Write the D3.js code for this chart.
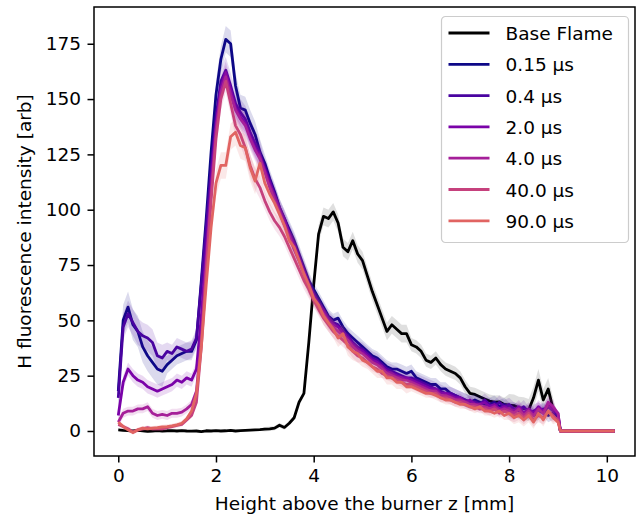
<!DOCTYPE html>
<html>
<head>
<meta charset="utf-8">
<script src="https://cdn.jsdelivr.net/npm/d3@7"></script>
<style>
  body { margin: 0; background: #fff; }
  svg { font-family: "DejaVu Sans", sans-serif; }
</style>
</head>
<body>
<div id="chart"></div>
<script>
// Height above the burner [mm], sampled every 0.1 mm
var heights = [
  0.0, 0.1, 0.2, 0.3, 0.4, 0.5, 0.6, 0.7, 0.8, 0.9,
  1.0, 1.1, 1.2, 1.3, 1.4, 1.5, 1.6, 1.7, 1.8, 1.9,
  2.0, 2.1, 2.2, 2.3, 2.4, 2.5, 2.6, 2.7, 2.8, 2.9,
  3.0, 3.1, 3.2, 3.3, 3.4, 3.5, 3.6, 3.7, 3.8, 3.9,
  4.0, 4.1, 4.2, 4.3, 4.4, 4.5, 4.6, 4.7, 4.8, 4.9,
  5.0, 5.1, 5.2, 5.3, 5.4, 5.5, 5.6, 5.7, 5.8, 5.9,
  6.0, 6.1, 6.2, 6.3, 6.4, 6.5, 6.6, 6.7, 6.8, 6.9,
  7.0, 7.1, 7.2, 7.3, 7.4, 7.5, 7.6, 7.7, 7.8, 7.9,
  8.0, 8.1, 8.2, 8.3, 8.4, 8.5, 8.6, 8.7, 8.8, 8.9,
  9.0, 9.05, 10.16
];

var baseFlame = [
  0.5, 0.3, 0.2, 0, 0.3, 0.1, -0.2, 0, 0.2, -0.1,
  0.1, 0.2, 0, 0.2, 0, -0.1, 0, -0.3, 0.1, 0,
  0.2, 0, 0.1, 0.3, 0, 0.2, 0.3, 0.4, 0.5, 0.6,
  0.8, 1.0, 1.3, 2.6, 1.6, 3.5, 6, 13, 17, 40,
  66, 89, 97, 96, 99, 94, 83, 81, 86, 80,
  77, 70, 63, 57, 51, 45, 48, 46, 44, 44,
  39, 38, 36, 32, 31, 33, 30, 28, 27, 26,
  24, 20, 17, 16.5, 15.5, 14.5, 13.5, 13, 13.2, 12,
  11.7, 11.5, 10.5, 10.2, 9.5, 15, 23, 14, 19, 10,
  6, 0, 0
];

var delay015 = [
  18, 50, 56, 48, 45, 38, 34, 31, 28, 27,
  30, 32, 34, 35, 36, 36, 41, 68, 96, 126,
  152, 168, 177, 175, 156, 146, 145, 139, 134, 126,
  121, 114, 108, 101, 96, 91, 86, 80, 74, 68,
  64, 60, 56, 52, 50, 51, 47, 44, 42, 40,
  38, 36, 34, 33, 31, 29, 28, 28, 27, 26,
  27, 24, 23, 22, 21, 21, 19, 19, 17, 16,
  15, 14, 13, 14, 13, 12, 12, 13, 11, 12,
  10, 10, 9, 8, 9, 7, 8, 10, 7, 8,
  6, 0, 0
];

var delay04 = [
  15, 47, 53, 49, 45, 43, 42, 40, 34, 33,
  36, 35, 38, 37, 36, 37, 42, 66, 92, 118,
  142, 158, 163, 156, 148, 144, 141, 135, 130, 125,
  119, 113, 107, 101, 96, 90, 85, 79, 73, 67,
  62, 58, 55, 51, 49, 48, 45, 43, 40, 38,
  37, 35, 33, 32, 30, 28, 27, 26, 25, 24,
  24, 23, 22, 21, 20, 19, 18, 17, 17, 16,
  15, 14, 13, 13, 12, 14, 12, 11, 13, 11,
  12, 10, 9, 11, 8, 9, 10, 8, 11, 9,
  7, 0, 0
];

var delay2 = [
  7, 22, 28, 25, 23, 22, 20, 19, 18, 19,
  20, 21, 23, 22, 24, 23, 28, 52, 82, 112,
  138, 155, 162, 154, 146, 142, 139, 133, 128, 124,
  118, 112, 106, 100, 95, 89, 84, 78, 72, 66,
  61, 57, 54, 50, 48, 47, 44, 42, 39, 37,
  36, 34, 32, 31, 29, 27, 26, 25, 24, 24,
  23, 22, 21, 20, 19, 19, 17, 17, 16, 15,
  15, 13, 14, 12, 12, 13, 11, 12, 10, 11,
  10, 9, 11, 8, 10, 8, 11, 9, 12, 10,
  8, 0, 0
];

var delay4 = [
  4, 8, 9, 9, 10, 10, 11, 8, 7, 7.5,
  7, 8, 8, 8.5, 10, 12, 18, 42, 76, 108,
  136, 153, 160, 152, 145, 141, 138, 132, 127, 123,
  117, 110, 104, 99, 93, 88, 82, 77, 71, 65,
  60, 56, 53, 49, 47, 45, 43, 41, 38, 36,
  35, 33, 31, 30, 28, 26, 25, 24, 23, 23,
  22, 21, 20, 19, 18, 18, 16, 16, 15, 14,
  14, 13, 12, 12, 11, 11, 10, 11, 9, 10,
  9, 8, 10, 7, 9, 7, 10, 8, 13, 11,
  8, 0, 0
];

var delay40 = [
  3, 2, 1, -0.5, 0.5, 1, 1.5, 1, 1, 1,
  1.5, 2, 2.5, 3, 5, 7, 13, 38, 72, 104,
  132, 150, 158, 148, 138, 134, 128, 120, 114, 110,
  104, 99, 95, 92, 88, 83, 78, 73, 68, 64,
  59, 55, 51, 48, 45, 43, 41, 39, 36, 34,
  33, 31, 29, 28, 26, 25, 24, 23, 22, 21,
  21, 20, 19, 18, 17, 17, 15, 15, 14, 13,
  13, 12, 11, 11, 10, 10, 9, 10, 8, 9,
  8, 7, 8, 6, 8, 5, 7, 6, 9, 7,
  5, 0, 0
];

var delay90 = [
  4, 2, 0.5, -0.7, 0.5, 1.3, 1, 1.3, 1.5, 1.8,
  2, 2.3, 2.8, 3.5, 5.5, 9, 17, 38, 66, 92,
  112, 120, 120, 133, 135, 129, 128, 119, 113, 121,
  112, 107, 103, 98, 93, 86, 83, 77, 71, 66,
  60, 57, 52, 49, 46, 42, 44, 38, 36, 35,
  32, 31, 29, 27, 27, 24, 24, 22, 22, 20,
  20, 19, 18, 17, 17, 16, 15, 14, 14, 13,
  12, 12, 11, 10, 11, 9, 9, 8, 9, 7,
  8, 6, 7, 5, 7, 4, 8, 5, 9, 6,
  4, 0, 0
];

// shot-to-shot spread, one value per millimetre (0-1, 1-2, ... 9-10 mm)
var spreadBase = [0.5, 0.5, 0.5, 1, 4, 4, 3, 3, 5, 0];
var spread015  = [7, 4, 6, 4, 3, 3, 3, 3, 3, 0];
var spread04   = [6, 4, 6, 4, 3, 3, 3, 3, 3, 0];
var spread2    = [3, 3, 5, 4, 3, 2, 2, 2, 3, 0];
var spread4    = [2, 2, 5, 3, 3, 2, 2, 2, 3, 0];
var spread40   = [1, 1, 5, 4, 3, 2, 2, 2, 3, 0];
var spread90   = [1, 1, 6, 5, 4, 3, 2, 2, 3, 0];

var labels = ["Base Flame", "0.15 \u00b5s", "0.4 \u00b5s", "2.0 \u00b5s", "4.0 \u00b5s", "40.0 \u00b5s", "90.0 \u00b5s"];
var xTicks = [0, 2, 4, 6, 8, 10];
var yTicks = [0, 25, 50, 75, 100, 125, 150, 175];

var allValues = [baseFlame, delay015, delay04, delay2, delay4, delay40, delay90];
var allSpreads = [spreadBase, spread015, spread04, spread2, spread4, spread40, spread90];
// base flame in black, delays from the lower part of the plasma colormap
var colors = ["#000000"].concat(d3.range(6).map(function(i) { return d3.interpolatePlasma(i * 0.12); }));

var margin = {top: 7, right: 6, bottom: 61, left: 94},
    width = 641 - margin.left - margin.right,
    height = 517 - margin.top - margin.bottom;

var x = d3.scaleLinear().domain([-0.497, 10.577]).range([0, width]);
var y = d3.scaleLinear().domain([-11.3, 191.6]).range([height, 0]);

var svg = d3.select("#chart")
  .append("svg")
    .attr("width", width + margin.left + margin.right)
    .attr("height", height + margin.top + margin.bottom)
  .append("g")
    .attr("transform", "translate(" + margin.left + "," + margin.top + ")");

svg.append("clipPath").attr("id", "clip")
  .append("rect").attr("width", width).attr("height", height);

var plot = svg.append("g").attr("clip-path", "url(#clip)");

var line = d3.line()
  .x(function(d) { return x(d.z); })
  .y(function(d) { return y(d.v); });

var band = d3.area()
  .x(function(d) { return x(d.z); })
  .y0(function(d) { return y(d.v - d.s); })
  .y1(function(d) { return y(d.v + d.s); });

var series = allValues.map(function(vals, i) {
  return {
    label: labels[i],
    color: colors[i],
    points: heights.map(function(z, j) {
      var s = allSpreads[i][Math.min(9, Math.floor(z + 1e-9))];
      if (vals[j] === 0 && z > 9) s = 0;
      return {z: z, v: vals[j], s: s};
    })
  };
});

// bands + lines, drawn in legend order
series.forEach(function(d, i) {
  plot.append("path")
    .attr("d", band(d.points))
    .attr("fill", i === 0 ? "#808080" : d.color)
    .attr("fill-opacity", i === 0 ? 0.25 : 0.15)
    .attr("stroke", "none");
  plot.append("path")
    .attr("d", line(d.points))
    .attr("fill", "none")
    .attr("stroke", d.color)
    .attr("stroke-width", 2.8)
    .attr("stroke-linejoin", "round");
});

// axes
var xAxis = svg.append("g")
  .attr("transform", "translate(0," + height + ")")
  .call(d3.axisBottom(x).tickValues(xTicks).tickSize(6.5).tickPadding(6.5));
var yAxis = svg.append("g")
  .call(d3.axisLeft(y).tickValues(yTicks).tickSize(6.5).tickPadding(6.5));

[xAxis, yAxis].forEach(function(ax) {
  ax.select(".domain").remove();
  ax.selectAll(".tick line").attr("stroke", "#000").attr("stroke-width", 1.5);
  ax.selectAll(".tick text")
    .attr("fill", "#000")
    .style("font-size", "18.5px")
    .style("font-family", "DejaVu Sans, sans-serif");
});

// frame
svg.append("rect")
  .attr("width", width)
  .attr("height", height)
  .attr("fill", "none")
  .attr("stroke", "#000")
  .attr("stroke-width", 1.5);

// axis labels
svg.append("text")
  .attr("text-anchor", "middle")
  .attr("x", width / 2)
  .attr("y", 503)
  .style("font-size", "18.5px")
  .text("Height above the burner z [mm]");

svg.append("text")
  .attr("text-anchor", "middle")
  .attr("transform", "translate(" + (31 - margin.left) + "," + (height / 2) + ") rotate(-90)")
  .style("font-size", "18.5px")
  .text("H fluorescence intensity [arb]");

// legend
var legend = svg.append("g").attr("transform", "translate(" + (441.5 - margin.left) + "," + (16.5 - margin.top) + ")");
legend.append("rect")
  .attr("width", 187)
  .attr("height", 226)
  .attr("rx", 4)
  .attr("fill", "#fff")
  .attr("fill-opacity", 0.8)
  .attr("stroke", "#cccccc")
  .attr("stroke-width", 1.2);

series.forEach(function(d, i) {
  var cy = 16.5 + i * 31.3;
  legend.append("line")
    .attr("x1", 7).attr("x2", 48)
    .attr("y1", cy).attr("y2", cy)
    .attr("stroke", d.color)
    .attr("stroke-width", 2.8);
  legend.append("text")
    .attr("x", 64)
    .attr("y", cy + 7)
    .style("font-size", "18.5px")
    .text(d.label);
});
</script>
</body>
</html>
